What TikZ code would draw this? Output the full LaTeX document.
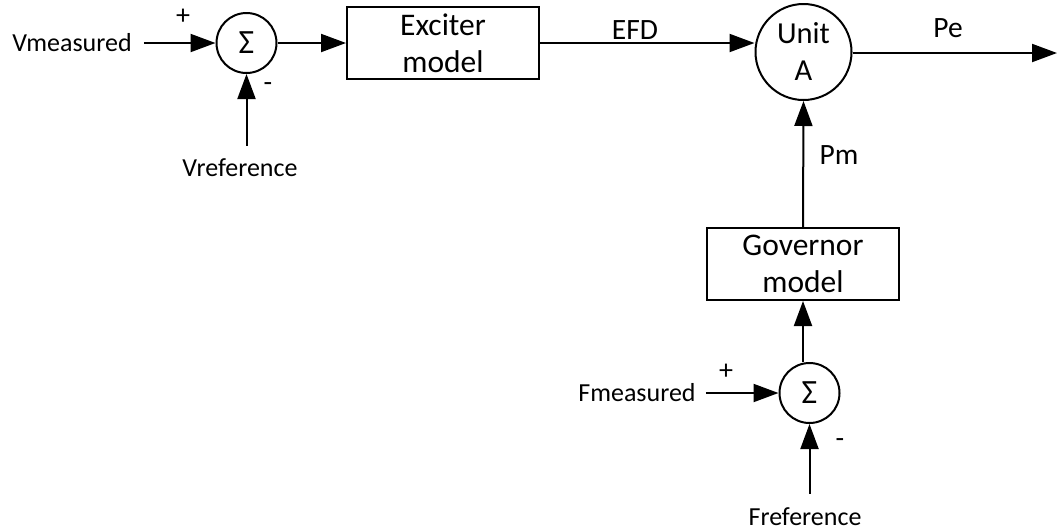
\documentclass[tikz,border=0pt]{standalone}
\usepackage{fontspec}
\setmainfont{Carlito}
\usetikzlibrary{arrows.meta}
\begin{document}
\begin{tikzpicture}[x=1pt,y=-1pt,
  every node/.style={inner sep=0pt},
  blk/.style={draw, line width=2pt, minimum width=192pt, minimum height=72pt, align=center, font=\fontsize{31.5}{37}\selectfont},
  sumc/.style={draw, circle, line width=2pt, minimum size=60pt, font=\fontsize{34}{36}\selectfont},
  unitc/.style={draw, circle, line width=2pt, minimum size=96pt, align=center, font=\fontsize{30.5}{37}\selectfont},
  sig/.style={-{Triangle[length=25pt,width=18pt]}, line width=2pt},
  small/.style={font=\fontsize{26}{30}\selectfont},
  sgn/.style={font=\fontsize{28}{30}\selectfont},
  big/.style={font=\fontsize{29.5}{36}\selectfont}]
\useasboundingbox (0,0) rectangle (1057,531);
% blocks
\node[sumc] (s1) at (246.5,43) {Σ};
\node[blk] (exc) at (443,43) {Exciter\\model};
\node[unitc] (unit) at (803.5,52) {Unit\\A};
\node[blk] (gov) at (803,264) {Governor\\model};
\node[sumc] (s2) at (809.5,393) {Σ};
% input labels
\node[small, inner xsep=12pt] (vm) at (72,43) {Vmeasured};
\node[small, inner ysep=13pt] (vr) at (240,168) {Vreference};
\node[small, inner xsep=10pt] (fm) at (637,393) {Fmeasured};
\node[small, inner ysep=14pt] (fr) at (805,517) {Freference};
\node[sgn] (p1) at (183,17) {+};
\node[sgn] (m1) at (268,87) {-};
\node[sgn] (p2) at (726,372) {+};
\node[sgn] (m2) at (840,443) {-};
% signal labels
\node[big] (efd) at (635,30) {EFD};
\node[big] (pe) at (948,28) {Pe};
\node[big] (pm) at (839,155) {Pm};
\coordinate (out) at (1057,53);
% connectors
\draw[sig] (vm) -- (s1);
\draw[sig] (vr.north -| s1.south) -- (s1.south);
\draw[sig] (s1) -- (exc);
\draw[sig] (exc.east) -- (exc.east -| unit.west);
\draw[sig] (unit.east |- out) -- (out);
\draw[sig] (gov.north) -- (unit.south);
\draw[sig] (s2.north -| gov.south) -- (gov.south);
\draw[sig] (fm) -- (s2);
\draw[sig] (fr.north -| s2.south) -- (s2.south);
\end{tikzpicture}
\end{document}
